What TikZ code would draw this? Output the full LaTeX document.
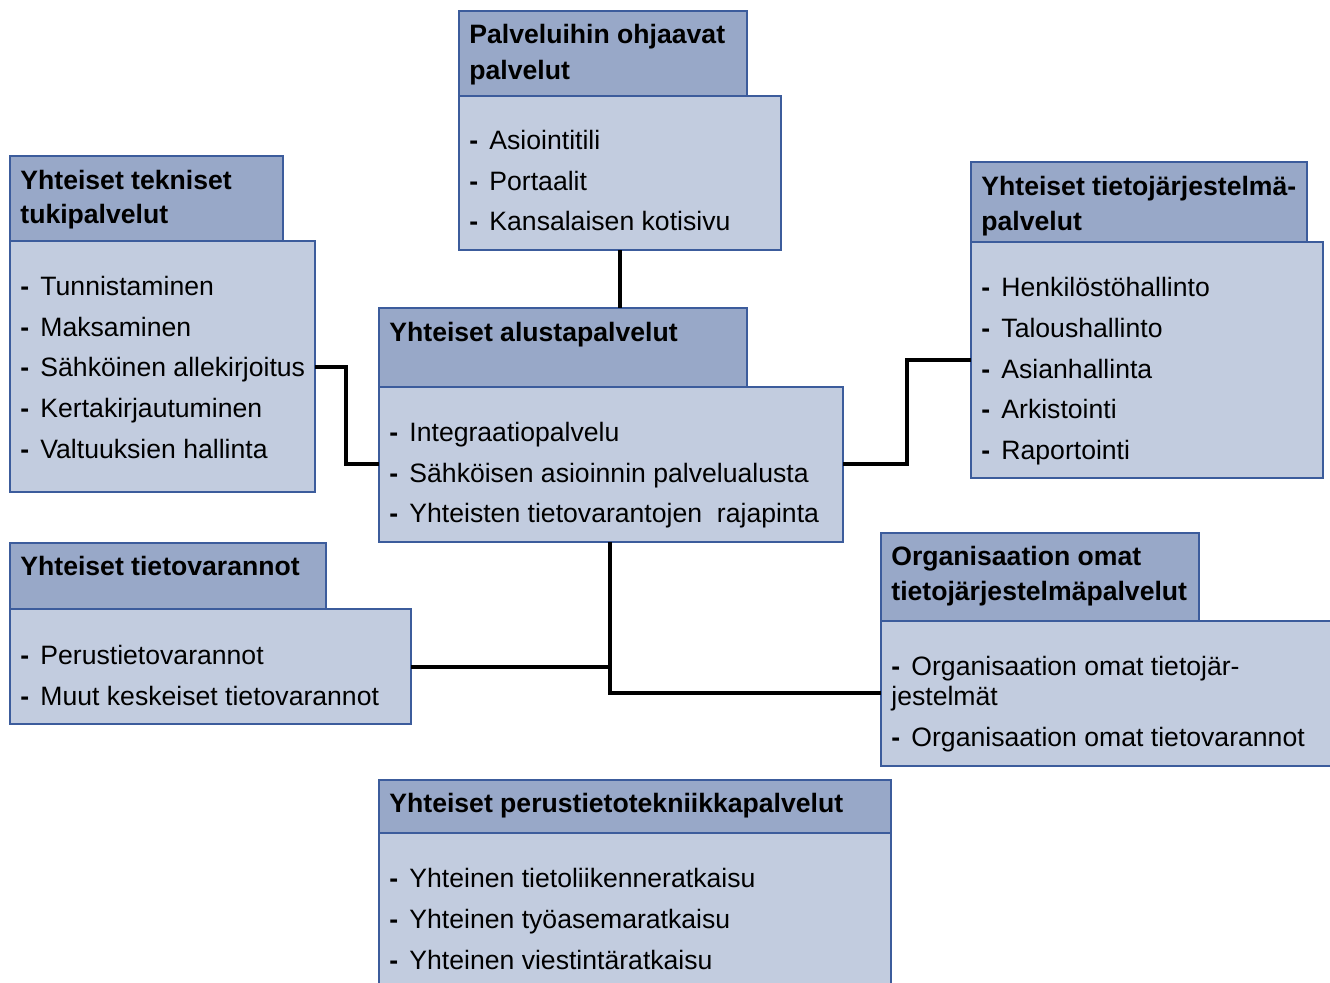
\documentclass[tikz,border=0pt]{standalone}
\usepackage{fontspec}
\setmainfont{Liberation Sans}
\usetikzlibrary{fit}
\definecolor{hdrfill}{HTML}{98A8C8}
\definecolor{bodyfill}{HTML}{C2CCDF}
\definecolor{edge}{HTML}{3C5C9C}
\newcommand{\dsh}{\textbf{-}\hspace{0.42em}}
\tikzset{
  x=0.5pt,y=-0.5pt,
  hdr/.style={draw=edge,fill=hdrfill,line width=1pt,inner sep=0pt},
  bodybox/.style={draw=edge,fill=bodyfill,line width=1pt,inner sep=0pt},
  htxt/.style={anchor=base west,inner sep=0pt,font=\fontsize{13.3}{16}\selectfont\bfseries},
  itxt/.style={anchor=base west,inner sep=0pt,font=\fontsize{13.3}{16}\selectfont},
  link/.style={line width=2.4pt,black}
}
\begin{document}
\begin{tikzpicture}
\useasboundingbox (0,0) rectangle (1330,982);
\clip (0,0) rectangle (1330,982);
% 1 Palveluihin ohjaavat palvelut
\node[bodybox,fit={(459,96)(781,250)}] (pb) {};
\node[hdr,fit={(459,11)(747,96)}] (ph) {};
\node[htxt] (ph1) at (469,43) {Palveluihin ohjaavat};
\node[htxt] (ph2) at (469,79) {palvelut};
\node[itxt] (pi1) at (469,149) {\dsh Asiointitili};
\node[itxt] (pi2) at (469,190) {\dsh Portaalit};
\node[itxt] (pi3) at (469,230) {\dsh Kansalaisen kotisivu};
% 2 Yhteiset tekniset tukipalvelut
\node[bodybox,fit={(10,241)(315,492)}] (tb) {};
\node[hdr,fit={(10,156)(283,241)}] (th) {};
\node[htxt] (th1) at (20,189) {Yhteiset tekniset};
\node[htxt] (th2) at (20,223) {tukipalvelut};
\node[itxt] (ti1) at (20,295) {\dsh Tunnistaminen};
\node[itxt] (ti2) at (20,336) {\dsh Maksaminen};
\node[itxt] (ti3) at (20,376) {\dsh Sähköinen allekirjoitus};
\node[itxt] (ti4) at (20,417) {\dsh Kertakirjautuminen};
\node[itxt] (ti5) at (20,458) {\dsh Valtuuksien hallinta};
% 3 Yhteiset tietojärjestelmäpalvelut
\node[bodybox,fit={(971,242)(1323,478)}] (jb) {};
\node[hdr,fit={(971,162)(1307,242)}] (jh) {};
\node[htxt] (jh1) at (981,195) {Yhteiset tietojärjestelmä-};
\node[htxt] (jh2) at (981,230) {palvelut};
\node[itxt] (ji1) at (981,296) {\dsh Henkilöstöhallinto};
\node[itxt] (ji2) at (981,337) {\dsh Taloushallinto};
\node[itxt] (ji3) at (981,378) {\dsh Asianhallinta};
\node[itxt] (ji4) at (981,418) {\dsh Arkistointi};
\node[itxt] (ji5) at (981,459) {\dsh Raportointi};
% 4 Yhteiset alustapalvelut
\node[bodybox,fit={(379,387)(843,542)}] (ab) {};
\node[hdr,fit={(379,308)(747,387)}] (ah) {};
\node[htxt] (ah1) at (389,341) {Yhteiset alustapalvelut};
\node[itxt] (ai1) at (389,441) {\dsh Integraatiopalvelu};
\node[itxt] (ai2) at (389,482) {\dsh Sähköisen asioinnin palvelualusta};
\node[itxt] (ai3) at (389,522) {\dsh Yhteisten tietovarantojen\ \ rajapinta};
% 5 Yhteiset tietovarannot
\node[bodybox,fit={(10,609)(411,724)}] (vb) {};
\node[hdr,fit={(10,543)(326,609)}] (vh) {};
\node[htxt] (vh1) at (20,575) {Yhteiset tietovarannot};
\node[itxt] (vi1) at (20,664) {\dsh Perustietovarannot};
\node[itxt] (vi2) at (20,705) {\dsh Muut keskeiset tietovarannot};
% 6 Organisaation omat tietojärjestelmäpalvelut
\node[bodybox,fit={(881,621)(1345,766)}] (ob) {};
\node[hdr,fit={(881,533)(1199,621)}] (oh) {};
\node[htxt] (oh1) at (891,565) {Organisaation omat};
\node[htxt] (oh2) at (891,600) {tietojärjestelmäpalvelut};
\node[itxt] (oi1) at (891,675) {\dsh Organisaation omat tietojär-};
\node[itxt] (oi2) at (891,705) {jestelmät};
\node[itxt] (oi3) at (891,746) {\dsh Organisaation omat tietovarannot};
% 7 Yhteiset perustietotekniikkapalvelut
\node[bodybox,fit={(379,833)(891,1000)}] (kb) {};
\node[hdr,fit={(379,780)(891,833)}] (kh) {};
\node[htxt] (kh1) at (389,812) {Yhteiset perustietotekniikkapalvelut};
\node[itxt] (ki1) at (389,887) {\dsh Yhteinen tietoliikenneratkaisu};
\node[itxt] (ki2) at (389,928) {\dsh Yhteinen työasemaratkaisu};
\node[itxt] (ki3) at (389,969) {\dsh Yhteinen viestintäratkaisu};
% connectors
\coordinate (c1) at (620,250);
\coordinate (c2) at (620,308);
\draw[link] (c1) -- (c2);
\coordinate (t1) at (315,367);
\coordinate (t2) at (379,464);
\draw[link] (t1) -- (346,367) -- (346,464) -- (t2);
\coordinate (j1) at (843,464);
\coordinate (j2) at (971,360);
\draw[link] (j1) -- (907,464) -- (907,360) -- (j2);
\coordinate (a1) at (610,542);
\coordinate (o1) at (881,693);
\draw[link] (a1) -- (610,693) -- (o1);
\coordinate (v1) at (411,667);
\coordinate (v2) at (610,667);
\draw[link] (v1) -- (v2);
\end{tikzpicture}
\end{document}
